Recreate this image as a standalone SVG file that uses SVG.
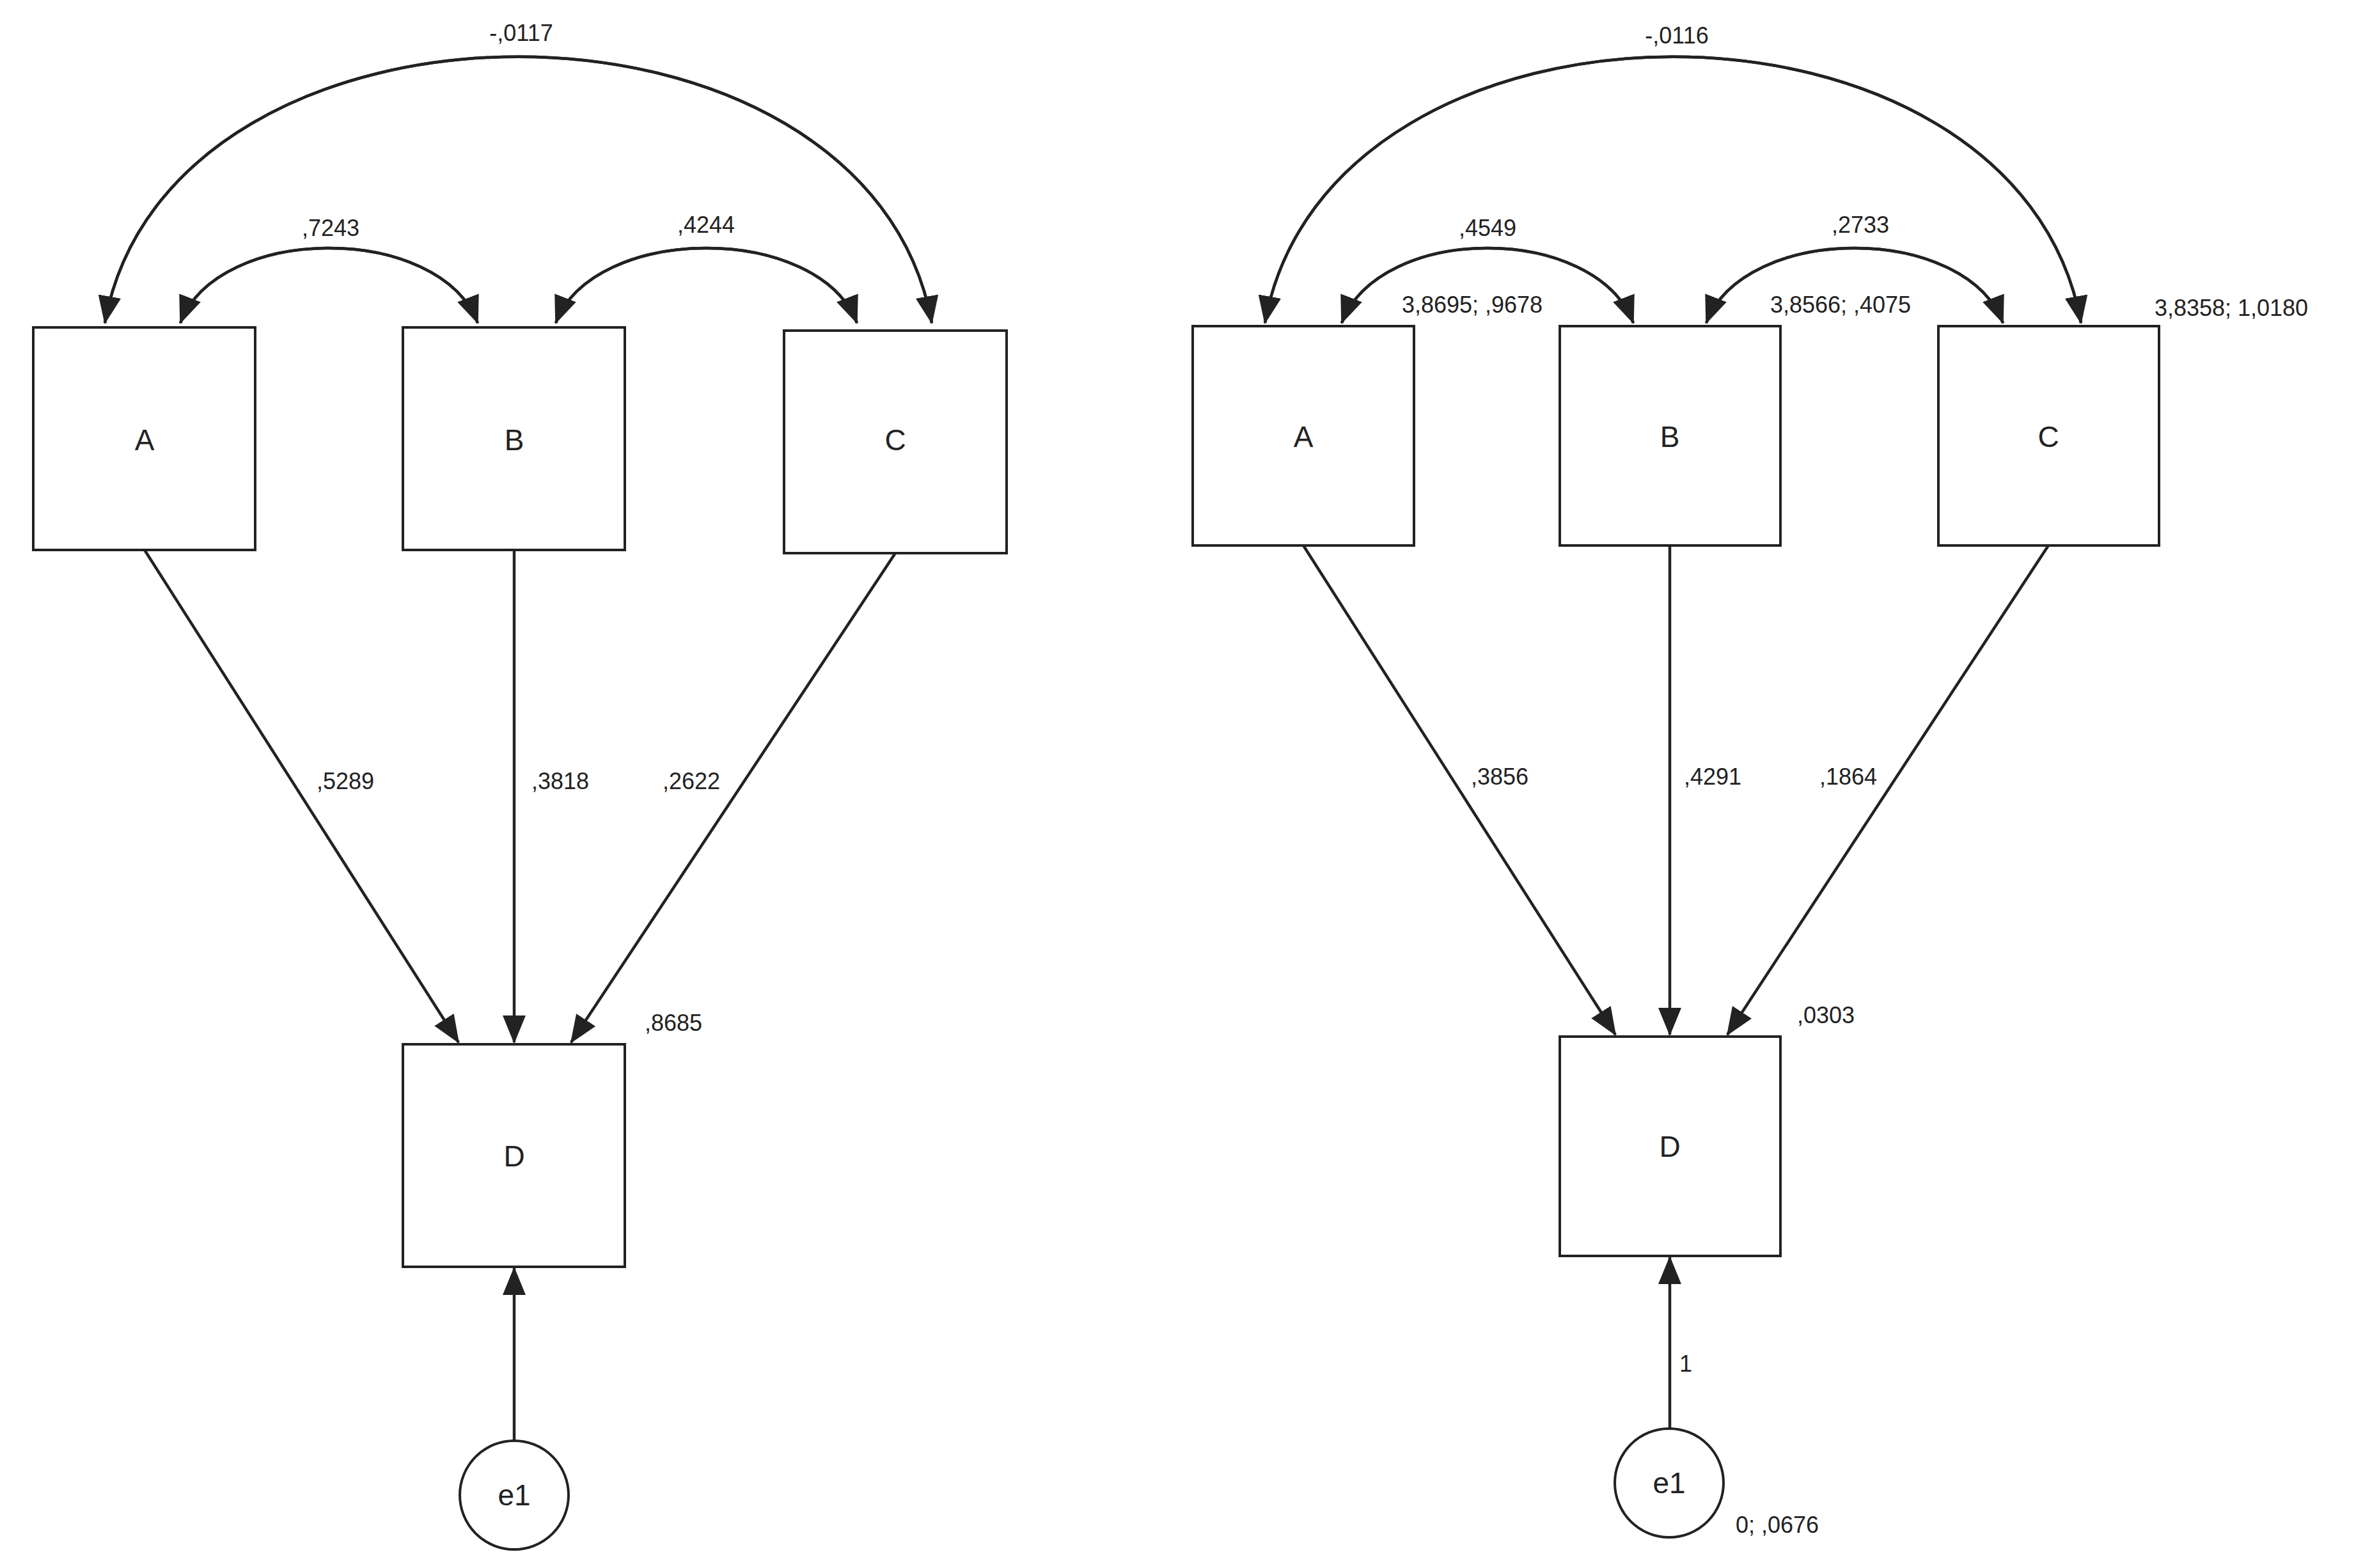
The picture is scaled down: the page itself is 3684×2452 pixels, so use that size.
<svg xmlns="http://www.w3.org/2000/svg" width="3684" height="2452" viewBox="0 0 3684 2452">
<style>
.n{fill:#fff;stroke:#222;stroke-width:4}
.c{fill:none;stroke:#222;stroke-width:4.5;marker-end:url(#ah)}
.l{font-family:"Liberation Sans",Arial,sans-serif;font-size:36px;fill:#222;text-anchor:middle}
.t{font-family:"Liberation Sans",Arial,sans-serif;font-size:46px;fill:#222;text-anchor:middle;dominant-baseline:central}
</style>
<defs>
<marker id="ah" markerUnits="userSpaceOnUse" markerWidth="44" markerHeight="36" refX="42" refY="18" orient="auto">
<path d="M0,0 L44,18 L0,36 Z" fill="#222"/>
</marker>
</defs>
<rect width="3684" height="2452" fill="#fff"/>
<g id="connectors">
<path class="c" d="M1457,505 C1357,-50 264,-50 164,505"/>
<path class="c" d="M164,505 C264,-50 1357,-50 1457,505"/>
<path class="c" d="M282,505 C342,349 687,349 747,505"/>
<path class="c" d="M747,505 C687,349 342,349 282,505"/>
<path class="c" d="M869,505 C929,349 1280,349 1340,505"/>
<path class="c" d="M1340,505 C1280,349 929,349 869,505"/>
<path class="c" d="M226,860 L717,1630"/>
<path class="c" d="M804,860 L804,1630"/>
<path class="c" d="M1400,865 L893,1630"/>
<path class="c" d="M804,2253 L804,1983"/>
<path class="c" d="M1978,505 C2078,-50 3154,-50 3254,505"/>
<path class="c" d="M3254,505 C3154,-50 2078,-50 1978,505"/>
<path class="c" d="M2098,505 C2158,349 2494,349 2554,505"/>
<path class="c" d="M2554,505 C2494,349 2158,349 2098,505"/>
<path class="c" d="M2668,505 C2728,349 3072,349 3132,505"/>
<path class="c" d="M3132,505 C3072,349 2728,349 2668,505"/>
<path class="c" d="M2038,853 L2526,1618"/>
<path class="c" d="M2611,853 L2611,1618"/>
<path class="c" d="M3203,853 L2701,1618"/>
<path class="c" d="M2611,2234 L2611,1966"/>
</g>
<g id="A1"><rect class="n" x="52" y="512" width="347" height="348"/><text class="t" x="226" y="688">A</text></g>
<g id="B1"><rect class="n" x="630" y="512" width="347" height="348"/><text class="t" x="804" y="688">B</text></g>
<g id="C1"><rect class="n" x="1226" y="517" width="348" height="348"/><text class="t" x="1400" y="688">C</text></g>
<g id="D1"><rect class="n" x="630" y="1633" width="347" height="348"/><text class="t" x="804" y="1808">D</text></g>
<g id="e1a"><circle class="n" cx="804" cy="2338" r="85"/><text class="t" x="804" y="2338">e1</text></g>
<g id="A2"><rect class="n" x="1865" y="510" width="346" height="343"/><text class="t" x="2038" y="683">A</text></g>
<g id="B2"><rect class="n" x="2439" y="510" width="345" height="343"/><text class="t" x="2611" y="683">B</text></g>
<g id="C2"><rect class="n" x="3031" y="510" width="345" height="343"/><text class="t" x="3203" y="683">C</text></g>
<g id="D2"><rect class="n" x="2439" y="1621" width="345" height="343"/><text class="t" x="2611" y="1793">D</text></g>
<g id="e1b"><circle class="n" cx="2610" cy="2319" r="85"/><text class="t" x="2610" y="2319">e1</text></g>
<g id="labels">
<text class="l" x="815" y="64">-,0117</text>
<text class="l" x="517" y="369">,7243</text>
<text class="l" x="1104" y="364">,4244</text>
<text class="l" x="540" y="1234">,5289</text>
<text class="l" x="876" y="1234">,3818</text>
<text class="l" x="1081" y="1234">,2622</text>
<text class="l" x="1053" y="1612">,8685</text>
<text class="l" x="2622" y="68">-,0116</text>
<text class="l" x="2326" y="369">,4549</text>
<text class="l" x="2909" y="364">,2733</text>
<text class="l" x="2302" y="489">3,8695; ,9678</text>
<text class="l" x="2878" y="489">3,8566; ,4075</text>
<text class="l" x="3489" y="494">3,8358; 1,0180</text>
<text class="l" x="2345" y="1227">,3856</text>
<text class="l" x="2678" y="1227">,4291</text>
<text class="l" x="2890" y="1227">,1864</text>
<text class="l" x="2855" y="1600">,0303</text>
<text class="l" x="2636" y="2145">1</text>
<text class="l" x="2779" y="2397">0; ,0676</text>
</g>
</svg>
